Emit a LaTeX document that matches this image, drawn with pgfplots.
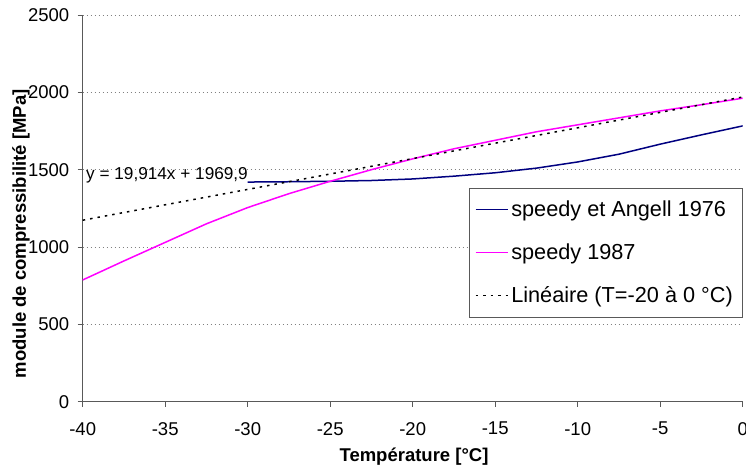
\documentclass[border=0pt]{standalone}
\usepackage{pgfplots}
\pgfplotsset{compat=1.18}
\usepackage{fontspec}
\setmainfont{Liberation Sans}
\usetikzlibrary{calc}

\definecolor{bleu}{RGB}{0,0,128}
\definecolor{rose}{RGB}{255,0,255}

\begin{document}
\begin{tikzpicture}
\begin{axis}[
    name=ax,
    scale only axis,
    width=660pt, height=386.7pt,
    xmin=-40, xmax=0, ymin=0, ymax=2500,
    xtick={-40,-35,...,0},
    ytick={0,500,...,2500},
    axis x line*=bottom, axis y line*=left,
    axis line style={gray!70!black, line width=0.8pt, -},
    tick style={gray!70!black, line width=0.8pt},
    tick align=outside, major tick length=5pt,
    ymajorgrids,
    grid style={gray, line width=0.8pt, dash pattern=on 1.5pt off 2.5pt},
    /pgf/number format/assume math mode=true,
    /pgf/number format/1000 sep={},
    ticklabel style={font=\fontsize{18.5}{22}\selectfont},
    xticklabel style={yshift=-12pt},
    yticklabel style={xshift=-5pt},
    xlabel={Température [°C]},
    ylabel={module de compressibilité [MPa]},
    label style={font=\fontsize{18.5}{22}\selectfont\bfseries},
    xlabel style={at={(axis description cs:0.502,-0.141)}, anchor=center},
    ylabel style={at={(axis description cs:-0.0935,0.434)}, anchor=center},
    legend cell align=left,
    legend style={at={(0.999,0.553)}, anchor=north east,
        font=\fontsize{21.7}{26}\selectfont,
        draw=gray!70!black,
        inner xsep=6pt, inner ysep=9.8pt, row sep=19.7pt,
        nodes={inner sep=3pt}},
    legend image code/.code={\draw[#1, line width=1.5pt] (0pt,0pt) -- (32pt,0pt);},
]
\addplot[bleu, line width=1.5pt] coordinates {
    (-30,1420) (-27.5,1422) (-25,1425) (-22.5,1430) (-20,1440)
    (-17.5,1458) (-15,1480) (-12.5,1510) (-10,1550) (-7.5,1600)
    (-5,1665) (-2.5,1725) (0,1783)};
\addlegendentry{speedy et Angell 1976}
\addplot[rose, line width=1.5pt] coordinates {
    (-40,787) (-37.5,910) (-35,1030) (-32.5,1150) (-30,1255)
    (-27.5,1345) (-25,1425) (-22.5,1500) (-20,1570) (-17.5,1635)
    (-15,1690) (-12.5,1745) (-10,1790) (-7.5,1835) (-5,1880)
    (-2.5,1920) (0,1962)};
\addlegendentry{speedy 1987}
\addplot[black, line width=1.5pt, dash pattern=on 2.5pt off 5pt] coordinates {
    (-40,1173.3) (0,1969.9)};
\addlegendentry{Linéaire (T=-20 à 0 °C)}
\node[anchor=west, inner sep=0pt, font=\fontsize{17.2}{20}\selectfont]
    at (axis cs:-39.8,1466) {y = 19,914x + 1969,9};
\end{axis}
\pgfresetboundingbox
\path ($(ax.south west)+(-82.7pt,-68.3pt)$) rectangle ++(746pt,470pt);
\end{tikzpicture}
\end{document}
